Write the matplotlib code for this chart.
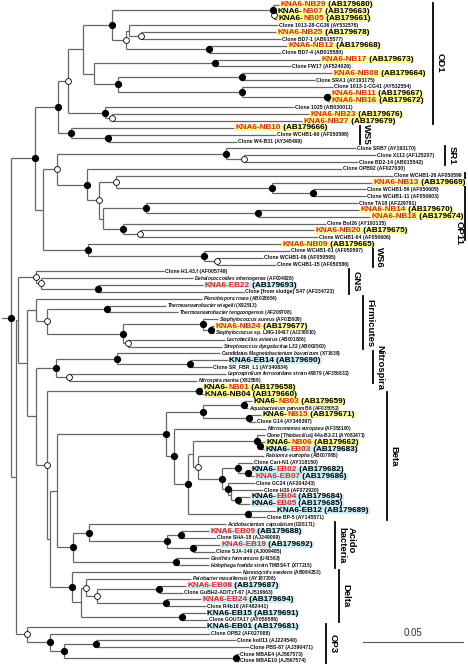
import matplotlib
matplotlib.use("Agg")
import matplotlib.pyplot as plt
from matplotlib.patches import Rectangle

plt.rcParams['font.family'] = ['Liberation Sans', 'DejaVu Sans']
plt.rcParams['mathtext.fontset'] = 'custom'
plt.rcParams['mathtext.it'] = 'Liberation Sans:italic:bold'
plt.rcParams['mathtext.rm'] = 'Liberation Sans:bold'

# leaf labels, top to bottom (*...* = italic)
labels = [
    "KNA6-NB29 (AB179680)", "KNA6-NB07 (AB179663)", "KNA6-NB05 (AB179661)",
    "Clone 1013-28-CG36 (AY532576)", "KNA6-NB25 (AB179678)", "Clone BD7-1 (AB015577)",
    "KNA6-NB12 (AB179668)", "Clone BD7-4 (AB015580)", "KNA6-NB17 (AB179673)",
    "Clone FW17 (AF524026)", "KNA6-NB08 (AB179664)", "Clone SRA1 (AY193175)",
    "Clone 1013-1-CG41 (AY532554)", "KNA6-NB11 (AB179667)", "KNA6-NB16 (AB179672)",
    "Clone 1025 (AB030011)", "KNA6-NB23 (AB179676)", "KNA6-NB27 (AB179679)",
    "KNA6-NB10 (AB179666)", "Clone WCHB1-60 (AF050598)", "Clone W4-B31 (AY345499)",
    "Clone SRB7 (AY193170)", "Clone X112 (AF125207)", "Clone BD2-14 (AB015542)",
    "Clone OPB92 (AF027030)", "Clone WCHB1-26 AF050599", "KNA6-NB13 (AB179669)",
    "Clone WCHB1-56 (AF050605)", "Clone WCHB1-11 (AF050603)", "Clone TA18 (AF229791)",
    "KNA6-NB14 (AB179670)", "KNA6-NB18 (AB179674)", "Clone Bol26 (AY193135)",
    "KNA6-NB20 (AB179675)", "Clone WCHB1-64 (AF050606)", "KNA6-NB09 (AB179665)",
    "Clone WCHB1-01 (AF050597)", "Clone WCHB1-06 (AF050595)", "Clone WCHB1-15 (AF050586)",
    "Clone H1.43.f (AF005749)", "*Dehalococcoides ethenogenes* (AF004928)",
    "KNA6-EB22 (AB179693)", "Clone [from sludge] S47 (AF234723)",
    "*Planobispora rosea* (AB028654)", "*Thermoanaerobacter wiegelii* (X92513)",
    "*Thermoanaerobacter tengcongensis* (AF209708)", "*Staphylococcus aureus* (AF015929)",
    "KNA6-NB24 (AB179677)", "*Staphylococcus* sp. LMG-19417 (AJ276810)",
    "*Lactobacillus aviarius* (AB001836)", "*Streptococcus dysgalactiae* L32 (AB002500)",
    "Candidatus *Magnetobacterium bavaricum* (X71838)", "KNA6-EB14 (AB179690)",
    "Clone SR_FBR_L1 (AY340834)", "*Leptospirillum ferrooxidans* strain 49879 (AF356832)",
    "*Nitrospira marina* (X82559)", "KNA6-NB01 (AB179658)", "KNA6-NB04 (AB179660)",
    "KNA6-NB03 (AB179659)", "*Aquabacterium parvum* B6 (AF035052)", "KNA6-NB15 (AB179671)",
    "Clone G14 (AY345397)", "*Nitrosomonas europaea* (AF353160)",
    "Clone [*Thiobacillus*] 44a-B2-21 (AY082471)", "KNA6-NB06 (AB179662)",
    "KNA6-EB03 (AB179683)", "*Ralstonia eutropha* (AB007995)", "Clone Cart-N1 (AY118150)",
    "KNA6-EB02 (AB179682)", "KNA6-EB07 (AB179686)", "Clone GC24 (AF204243)",
    "Clone H20 (AF072920)", "KNA6-EB04 (AB179684)", "KNA6-EB05 (AB179685)",
    "KNA6-EB12 (AB179689)", "Clone BP-5 (AY145571)", "*Acidobacterium capsulatum* (D26171)",
    "KNA6-EB09 (AB179688)", "Clone SHA-18 (AJ249099)", "KNA6-EB19 (AB179692)",
    "Clone SJA-149 (AJ009485)", "*Geothrix fermentans* (U41563)",
    "*Holophaga foetida* strain TMBS4-T (X77215)", "*Nannocystis exedens* (AB084253)",
    "*Pelobacter massiliensis* (AY187308)", "KNA6-EB08 (AB179687)",
    "Clone GuBH2-AD/TzT-67 (AJ519663)", "KNA6-EB24 (AB179694)", "Clone R4b16 (AF482441)",
    "KNA6-EB15 (AB179691)", "Clone GOUTA17 (AY050586)", "KNA6-EB01 (AB179681)",
    "Clone OPB2 (AF027088)", "Clone koll11 (AJ224540)", "Clone PBS-87 (AJ390471)",
    "Clone MBAE4 (AJ567573)", "Clone MBAE10 (AJ567574)",
]

# which part of a KNA6 clone name is printed red
red_whole = ["NB29", "NB25", "NB12", "NB17", "NB08", "NB11", "NB16", "NB23", "NB27",
             "NB10", "NB13", "NB14", "NB18", "NB20", "NB09", "EB22", "NB24", "EB07",
             "EB09", "EB19", "EB08", "EB24"]
red_code = ["NB07", "NB05", "NB01", "NB03", "NB15", "NB06", "EB03", "EB02", "EB04", "EB05"]

# tree in Newick form: leaves are label indices, F = filled node, O = open node
od1 = ("((((0:0.003,(1:0.001,2:0.0015)O:0.0005)F:0.0805,((3:0.0745,(4:0.0675,5:0.07)O:0.006)"
       ":0.0015,(6:0.039,7:0.036)F:0.0415)O:0.007)F:0.0145,((8:0.0525,9:0.038)F:0.0605,"
       "((10:0.045,11:0.0365)F:0.062,(12:0.0455,(13:0.0015,14:0.0015)F:0.0425)F:0.062)F:0.012)"
       ":0.0055):0.0075,(15:0.0945,(16:0.0985,17:0.095)O:0.0035)F:0.0185)O")
ws5 = "(18:0.0815,(19:0.084,20:0.0645)F:0.0185)F"
sr1 = "(21:0.065,(22:0.066,23:0.057)O:0.009)F"
op11_a = "(25:0.1385,(26:0.05,(27:0.0265,28:0.0265)F:0.0205)F:0.078)O"
op11_b = ("((29:0.106,(30:0.0505,31:0.056)F:0.056)F:0.0215,"
          "(32:0.1015,(33:0.087,34:0.089)O:0.0085)F:0.01)")
op11 = f"(24:0.1275,({op11_a}:0.0085,{op11_b}:0.002)O:0.006)F"
ws6 = "(35:0.0965,(36:0.043,(37:0.023,38:0.0295)O:0.0065)F:0.058)F"
upper = f"(({od1}:0.005,{ws5}:0.0065)F:0.0115,(({sr1}:0.0845,{op11}:0.015)O:0.007,{ws6}:0.0225):0.004)F"

gns = "(39:0.064,(40:0.076,(41:0.0525,42:0.073)F:0.0285)O:0.0025)O"
firmi = ("(43:0.083,((44:0.0295,45:0.0355)F:0.03,((46:0.0075,(47:0.0015,48:0.0015)F:0.004)F:0.04,"
         "(49:0.0485,50:0.047)O:0.0025)F:0.038)O:0.0055)")
nitro = "((51:0.0515,(52:0.019,53:0.011)F:0.0365)F:0.0305,(54:0.0785,55:0.064)O:0.0065)F"
nb0104 = "(56:0.0015,57:0.0025)F"
beta_a = "((58:0.004,59:0.002)F:0.0205,(60:0.006,61:0.0035)F:0.023)F"
beta_b = ("((67:0.0075,(68:0.001,69:0.003)F:0.005)F:0.008,"
          "(70:0.0135,(71:0.016,(72:0.006,73:0.006)F:0.0035):0.0015)F:0.003)F")
beta_c = (f"(((63:0.004,(64:0.0025,65:0.002)F:0.0015)F:0.032,(66:0.033,{beta_b}:0.012)O:0.0025)"
          ":0.0025,(74:0.014,75:0.009)F:0.03)F")
beta = f"({beta_a}:0.0185,(62:0.046,{beta_c}:0.007)F:0.004)F"
acido = ("((76:0.0685,((77:0.014,78:0.0175)F:0.007,(79:0.0135,80:0.011)F:0.013)F:0.039)F:0.008,"
         "(81:0.0165,82:0.0165)F:0.0515)F")
delta = ("(83:0.0845,((84:0.0525,((85:0.0135,86:0.012)F:0.031,(87:0.0175,88:0.02)F:0.0345)O"
         ":0.0055)O:0.0025,(89:0.012,90:0.013)F:0.0505):0.0045)F")
op3 = "(91:0.0895,(92:0.08,((93:0.07,94:0.0765)F:0.016,(95:0.0015,96:0.0015)F:0.086)F:0.007)F:0.0115)O"
mid = f"(({beta}:0.0545,{acido}:0.008):0.0035,{delta}:0.011)"
mid = f"({nb0104}:0.076,{mid}:0.0015)O"
mid = f"({nitro}:0.01,{mid}:0.0055)"
mid = f"({firmi}:0.0045,{mid}:0.0045)"
mid = f"({gns}:0.009,{mid}:0.0045)"
lower = f"({mid}:0.001,{op3}:0.0055)"
newick = f"({upper}:0.012,{lower}:0.0025)F:0.0045;"

# clade brackets: name, first leaf, last leaf
clades = [("OD1", 0, 17), ("WS5", 18, 20), ("SR1", 21, 23), ("OP11", 25, 34),
          ("WS6", 36, 38), ("GNS", 39, 42), ("Firmicutes", 43, 50), ("Nitrospira", 51, 55),
          ("Beta", 57, 75), ("Acido\nbacteria", 76, 82), ("Delta", 83, 90), ("OP3", 91, 96)]
bracket_x = [0.211, 0.1745, 0.217, 0.2272, 0.181, 0.169, 0.176, 0.181, 0.188, 0.162, 0.164, 0.1575]

LINE = '#666666'


def parse(s):
    pos = 0

    def node():
        nonlocal pos
        kids = []
        if s[pos] == '(':
            pos += 1
            kids.append(node())
            while s[pos] == ',':
                pos += 1
                kids.append(node())
            pos += 1
        start = pos
        while s[pos] not in ':,);':
            pos += 1
        name = s[start:pos]
        length = 0.0
        if s[pos] == ':':
            pos += 1
            start = pos
            while s[pos] not in ',);':
                pos += 1
            length = float(s[start:pos])
        return {'name': name, 'len': length, 'kids': kids}

    return node()


def place(n, depth):
    n['x'] = depth + n['len']
    if n['kids']:
        for k in n['kids']:
            place(k, n['x'])
        n['y'] = (n['kids'][0]['y'] + n['kids'][-1]['y']) / 2
    else:
        n['y'] = int(n['name'])


def draw_branches(ax, n, leaves):
    if not n['kids']:
        leaves.append(n)
        return
    ys = [k['y'] for k in n['kids']]
    ax.plot([n['x'], n['x']], [min(ys), max(ys)], color=LINE, lw=0.9, solid_capstyle='butt')
    for k in n['kids']:
        ax.plot([n['x'], k['x']], [k['y'], k['y']], color=LINE, lw=0.9, solid_capstyle='butt')
        draw_branches(ax, k, leaves)
    if n['name'] == 'F':
        ax.plot(n['x'], n['y'], 'o', ms=4.2, mfc='black', mec='black', zorder=5)
    elif n['name'] == 'O':
        ax.plot(n['x'], n['y'], 'o', ms=4.2, mfc='white', mec='black', mew=0.6, zorder=5)


def width_pt(s, **kw):
    t = ax.text(0, 0, s, **kw)
    w = t.get_window_extent(renderer).width
    t.remove()
    return w * 72 / fig.dpi


def draw_label(x, y, text, gap=1.0):
    red = '#e8231d'
    if not text.startswith('KNA6-'):
        parts = text.split('*')
        s = ''.join('$\\mathit{' + p.replace(' ', '\\ ') + '}$' if i % 2 else p
                    for i, p in enumerate(parts))
        ax.annotate(s, xy=(x, y), xytext=(gap, 0), textcoords='offset points',
                    ha='left', va='center', color='#111111',
                    fontsize=3.5 if len(parts) > 1 else 3.7, fontweight='bold')
        return
    code, acc = text[5:].split(' ', 1)
    if code in red_whole:
        segs = [("KNA6-" + code, red), (" " + acc, 'black')]
    elif code in red_code:
        segs = [("KNA6-", 'black'), (code, red), (" " + acc, 'black')]
    else:
        segs = [(text, 'black')]
    bg = '#fcf98e' if code.startswith('NB') else '#c8eef6'
    font = dict(fontsize=5.9, fontweight='bold')
    # background box from the extent of the whole label
    t = ax.annotate(text, xy=(x, y), xytext=(gap, 0), textcoords='offset points',
                    ha='left', va='center', **font)
    bb = t.get_window_extent(renderer)
    t.remove()
    inv = ax.transData.inverted()
    (x0, y0), (x1, y1) = inv.transform([(bb.x0 - 0.7, bb.y0 + 0.3), (bb.x1 + 0.7, bb.y1 - 0.3)])
    ax.add_patch(Rectangle((x0, min(y0, y1)), x1 - x0, abs(y1 - y0), fc=bg, ec='none', zorder=3))
    prefix = ''
    for seg, col in segs:
        prefix += seg
        ax.annotate(seg, xy=(x, y), xytext=(gap + width_pt(prefix, **font), 0),
                    textcoords='offset points', ha='right', va='center', color=col,
                    zorder=4, **font)


tree = parse(newick)
place(tree, -tree['len'])

fig = plt.figure(figsize=(4.68, 6.65), dpi=100)
ax = fig.add_axes([0, 0, 1, 1])
ax.set_xlim(-0.0055, 0.2285)
ax.set_ylim(96.59, -0.73)
ax.axis('off')
renderer = fig.canvas.get_renderer()

ax.plot([tree['x'] - tree['len'], tree['x']], [tree['y'], tree['y']], color=LINE, lw=0.9)
leaves = []
draw_branches(ax, tree, leaves)
for lf in leaves:
    draw_label(lf['x'], lf['y'], labels[int(lf['name'])])

for (name, a, b), bx in zip(clades, bracket_x):
    ax.plot([bx, bx], [a - 0.35, b + 0.35], color='black', lw=1.3)
    if name == "OP11":
        ax.text(bx - 0.001, 33.3, name, rotation=-90, ha='right', va='center',
                fontsize=6.8, fontweight='bold')
        continue
    ax.text(bx + 0.0012, (a + b) / 2, name, rotation=-90, ha='left', va='center',
            fontsize=6.8, fontweight='bold', multialignment='left', linespacing=1.0)

# scale bar
ax.plot([0.176, 0.176 + 0.05], [93.2, 93.2], color='#555555', lw=0.8)
ax.text(0.176 + 0.025, 92.6, "0.05", ha='center', va='bottom', fontsize=7, color='#333333')

fig.savefig("out.png", dpi=100)
